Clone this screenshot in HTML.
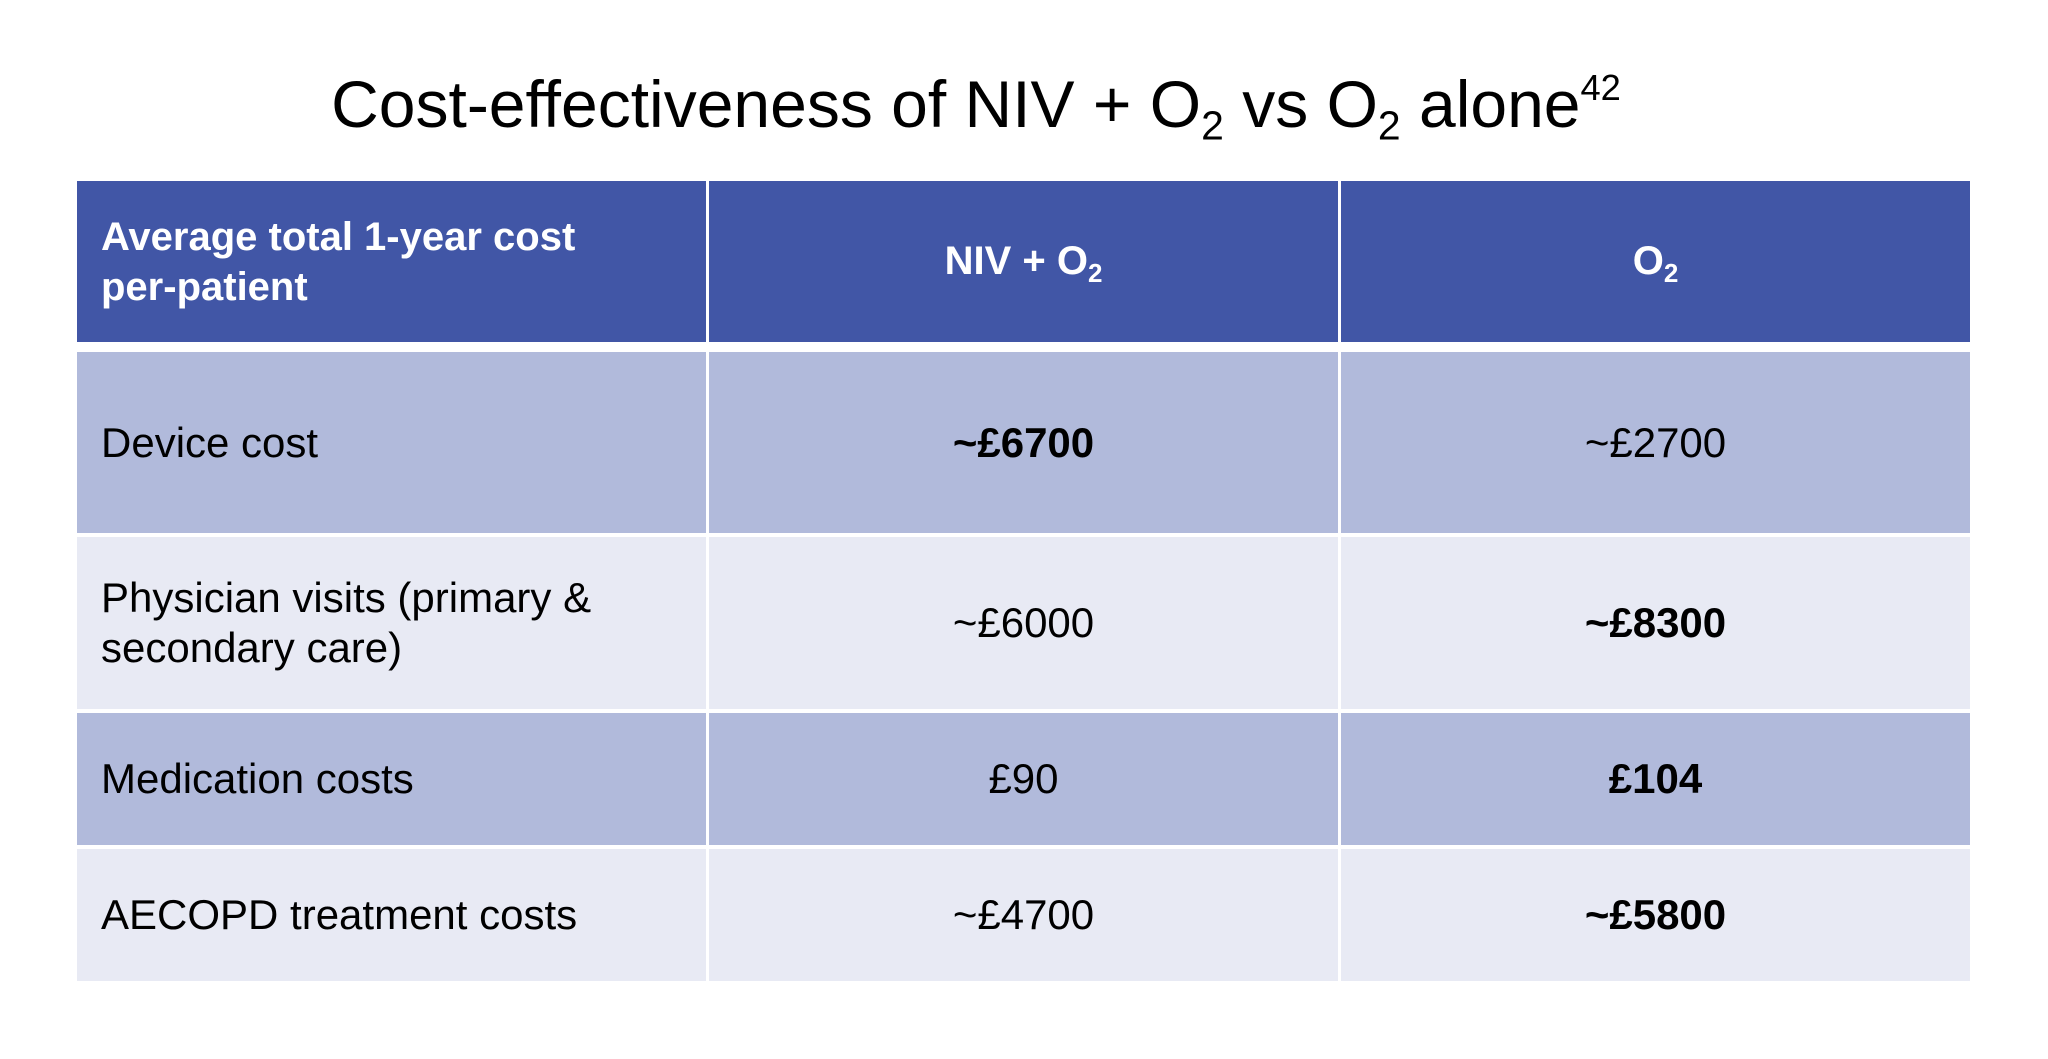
<!DOCTYPE html>
<html><head><meta charset="utf-8"><style>
body{margin:0;width:2048px;height:1059px;background:#fff;position:relative;overflow:hidden;font-family:"Liberation Sans",sans-serif;}
.title{position:absolute;left:0;width:1952px;top:64px;text-align:center;font-size:66px;color:#000;white-space:nowrap;line-height:80px;}
.title sub{font-size:0.62em;vertical-align:-0.3em;line-height:0}
.title sup{font-size:0.55em;vertical-align:0.75em;line-height:0}
.c{position:absolute;display:flex;align-items:center;box-sizing:border-box;font-size:42px;color:#000;}
.h{background:#4156A6;color:#fff;font-weight:bold;font-size:40px;}
.d{background:#B1BADB}.l{background:#E8EAF4}
.left{padding-left:24px;line-height:50px}
.ctr{justify-content:center}
.b{font-weight:bold}
.c sub{font-size:0.65em;vertical-align:-0.3em;line-height:0}
</style></head><body>
<div class="title">Cost-effectiveness of NIV + O<sub>2</sub> vs O<sub>2</sub> alone<sup>42</sup></div>

<div class="c h left" style="left:77px;top:181px;width:629px;height:161px"><span>Average total 1-year cost<br>per-patient</span></div>
<div class="c h ctr" style="left:709px;top:181px;width:629px;height:161px"><span>NIV + O<sub>2</sub></span></div>
<div class="c h ctr" style="left:1341px;top:181px;width:629px;height:161px"><span>O<sub>2</sub></span></div>

<div class="c d left" style="left:77px;top:352px;width:629px;height:181px"><span>Device cost</span></div>
<div class="c d ctr b" style="left:709px;top:352px;width:629px;height:181px"><span>~£6700</span></div>
<div class="c d ctr" style="left:1341px;top:352px;width:629px;height:181px"><span>~£2700</span></div>

<div class="c l left" style="left:77px;top:537px;width:629px;height:172px"><span>Physician visits (primary &amp;<br>secondary care)</span></div>
<div class="c l ctr" style="left:709px;top:537px;width:629px;height:172px"><span>~£6000</span></div>
<div class="c l ctr b" style="left:1341px;top:537px;width:629px;height:172px"><span>~£8300</span></div>

<div class="c d left" style="left:77px;top:713px;width:629px;height:132px"><span>Medication costs</span></div>
<div class="c d ctr" style="left:709px;top:713px;width:629px;height:132px"><span>£90</span></div>
<div class="c d ctr b" style="left:1341px;top:713px;width:629px;height:132px"><span>£104</span></div>

<div class="c l left" style="left:77px;top:849px;width:629px;height:132px"><span>AECOPD treatment costs</span></div>
<div class="c l ctr" style="left:709px;top:849px;width:629px;height:132px"><span>~£4700</span></div>
<div class="c l ctr b" style="left:1341px;top:849px;width:629px;height:132px"><span>~£5800</span></div>
</body></html>
